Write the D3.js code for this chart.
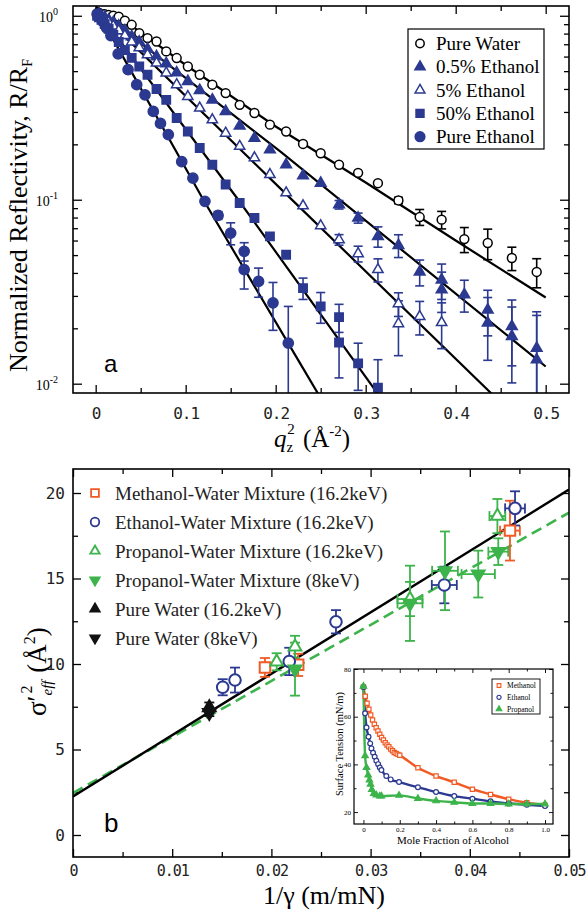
<!DOCTYPE html>
<html><head><meta charset="utf-8">
<script src="https://cdn.jsdelivr.net/npm/d3@7"></script>
<style>body{margin:0;background:#fff}svg{display:block}</style>
</head><body><script>
var blue = '#2b3990', orange = '#f15a24', green = '#3cb44b';
var serif = 'Liberation Serif', mono = 'DejaVu Sans Mono';

// ---- panel a : q_z^2 (1/A^2) vs R/R_F
var qWater = [0.0016,0.0036,0.0064,0.01,0.0144,0.0196,0.0256,0.0324,0.04,0.0484,0.0576,0.0676,0.0784,0.09,0.1024,0.1156,0.1296,0.1444,0.16,0.1764,0.1936,0.2116,0.2304,0.25,0.2704,0.2916,0.3136,0.3364,0.36,0.3844,0.4096,0.4356,0.4624,0.49];
var rWater = [1.03,1.03,1.02,1.02,1.01,1.0,0.99,0.94,0.893,0.805,0.756,0.725,0.64,0.589,0.53,0.478,0.422,0.38,0.328,0.296,0.256,0.235,0.201,0.179,0.155,0.140,0.123,0.0991,0.0805,0.0779,0.0611,0.0582,0.0482,0.0405];
var eWater = [0,0,0,0,0,0,0,0,0,0,0,0,0,0,0,0,0,0,0,0,0,0,0,0,0,0,0,0.004,0.008,0.0085,0.0095,0.011,0.007,0.0073];

var q05 = [0.0036,0.0064,0.01,0.0144,0.0196,0.0256,0.0324,0.04,0.0484,0.0576,0.0676,0.0784,0.09,0.1024,0.1156,0.1296,0.1444,0.16,0.1764,0.1936,0.2116,0.2304,0.25,0.2704,0.2916,0.3136,0.3364,0.36,0.3844,0.3844,0.4096,0.4356,0.4356,0.4624,0.4624,0.49,0.49];
var r05 = [1.02,1.0,0.98,0.95,0.92,0.88,0.83,0.77,0.72,0.66,0.60,0.55,0.49,0.44,0.393,0.349,0.302,0.252,0.216,0.187,0.155,0.135,0.123,0.094,0.0796,0.0632,0.0565,0.0405,0.0367,0.0324,0.0305,0.0252,0.0214,0.0205,0.0181,0.0156,0.0135];
var e05 = [0,0,0,0,0,0,0,0,0,0,0,0,0,0,0,0,0,0,0,0,0,0,0,0.005,0.005,0.008,0.008,0.0065,0.008,0.008,0.006,0.007,0.008,0.008,0.008,0.009,0.010];

var q5 = [0.0036,0.0064,0.01,0.0144,0.0196,0.0256,0.0324,0.04,0.0484,0.0576,0.0676,0.0784,0.09,0.1024,0.1156,0.1296,0.1444,0.16,0.1764,0.1936,0.2116,0.2304,0.25,0.2704,0.2916,0.3136,0.3364,0.3364,0.36,0.3844];
var r5 = [1.01,0.99,0.96,0.92,0.88,0.83,0.78,0.72,0.67,0.614,0.553,0.489,0.422,0.364,0.315,0.272,0.23,0.195,0.169,0.137,0.109,0.0927,0.0722,0.0606,0.0509,0.0417,0.0272,0.0212,0.0232,0.0215];
var e5 = [0,0,0,0,0,0,0,0,0,0,0,0,0,0,0,0,0,0,0,0,0,0,0,0.004,0.005,0.006,0.004,0.007,0.0048,0.006];

var q50 = [0.0016,0.0036,0.0064,0.01,0.0144,0.0196,0.0256,0.0324,0.04,0.0484,0.0576,0.0676,0.0784,0.09,0.1024,0.1156,0.1296,0.1444,0.16,0.1764,0.1936,0.2116,0.2304,0.25,0.2704,0.2704,0.2916,0.3136];
var r50 = [1.0,0.98,0.95,0.9,0.85,0.79,0.72,0.65,0.59,0.53,0.478,0.40,0.349,0.278,0.235,0.191,0.155,0.121,0.096,0.0796,0.0632,0.0502,0.0331,0.0263,0.023,0.01675,0.0129,0.0095];
var e50 = [0,0,0,0,0,0,0,0,0,0,0,0,0,0,0,0,0,0,0,0,0,0,0.0044,0.005,0.004,0.006,0.0037,0.004];

var qEth = [0.0016,0.0049,0.0081,0.0121,0.0169,0.025,0.036,0.0456,0.0548,0.064,0.072,0.0807,0.0956,0.108,0.1214,0.136,0.15,0.165,0.165,0.181,0.197,0.214];
var rEth = [1.02,0.98,0.93,0.86,0.78,0.62,0.509,0.422,0.372,0.302,0.26,0.226,0.161,0.131,0.098,0.0822,0.0659,0.0524,0.0417,0.036,0.0275,0.0166];
var eEth = [0,0,0,0,0,0,0,0,0,0,0,0,0,0,0,0.004,0.009,0.006,0.009,0.0065,0.008,0.0097];

// fitted curves
var fitWaterQ = [0,0.04,0.1,0.2,0.3,0.4,0.5], fitWaterR = [1.12,0.88,0.54,0.25,0.124,0.06,0.0294];
var fit05Q = [0,0.205,0.5], fit05R = [1.1,0.183,0.0124];
var fit5Q = [0,0.2045,0.45], fit5R = [1.1,0.116,0.0079];
var fit50Q = [0,0.1584,0.33], fit50R = [1.1,0.1,0.0068];
var fitEthQ = [0,0.1196,0.227,0.26], fitEthR = [1.1,0.1,0.01294,0.0069];

// ---- panel b : 1/gamma (m/mN) vs sigma'^2 (A^2)
var xMeth = [0.01935,0.0227,0.04405], yMeth = [9.8,9.95,17.8], eyMeth = [0.55,0.65,1.75], exMeth = [0,0,0.001];
var xEthB = [0.01509,0.01633,0.0218,0.02651,0.03743,0.04456], yEthB = [8.64,9.06,10.15,12.47,14.62,19.1], eyEthB = [0.47,0.73,0.8,0.68,1.07,1.0], exEthB = [0,0,0,0.00023,0.00126,0.001];
var xProp = [0.02053,0.02238,0.03397,0.04278], yProp = [10.13,11.0,13.8,18.65], eyProp = [0.5,0.65,1.0,1.0], exProp = [0,0,0.00126,0.0008];
var xProp8 = [0.02238,0.03397,0.0375,0.04085,0.04287], yProp8 = [9.7,13.55,15.45,15.26,16.57], eyProp8 = [1.55,2.2,2.3,1.37,0.78], exProp8 = [0,0.00126,0.0013,0.00168,0.001];
var xPW = [0.01374], yPW = [7.45], eyPW = [0.3];
var xPW8 = [0.01374], yPW8 = [7.15], eyPW8 = [0.2];
var fitSolid = [[0,2.25],[0.05,20.2]];
var fitDashed = [[0,2.45],[0.05,18.85]];

// ---- inset : mole fraction vs surface tension (mN/m)
var xMethI = [0,0.01,0.02,0.03,0.04,0.05,0.06,0.07,0.08,0.09,0.1,0.11,0.12,0.13,0.14,0.15,0.16,0.17,0.18,0.19,0.2,0.3,0.4,0.5,0.6,0.7,0.8,0.9,1.0];
var yMethI = [72.5,68.6,65.6,63.1,60.7,58.6,56.8,55.4,54.0,52.6,51.3,50.2,49.1,48.1,47.4,46.4,45.7,45.0,44.6,44.2,43.8,38.6,35.1,32.5,29.6,27.4,25.4,23.9,22.9];
var xEthI = [0,0.009,0.017,0.028,0.037,0.044,0.053,0.062,0.071,0.081,0.09,0.099,0.126,0.15,0.196,0.3,0.4,0.5,0.6,0.7,0.8,0.9,1.0];
var yEthI = [72.5,61.4,55.5,51.6,48.8,46.7,44.9,43.2,41.5,40.1,38.7,37.6,35.1,33.7,32.6,30.4,28.4,26.7,25.6,24.5,23.6,23.1,22.5];
var xPropI = [0,0.009,0.017,0.026,0.033,0.039,0.046,0.057,0.071,0.09,0.099,0.196,0.3,0.4,0.5,0.6,0.7,0.8,0.9,1.0];
var yPropI = [72.8,43.6,38.7,35.5,33.4,31.7,29.5,27.8,27.1,26.7,26.7,27.0,25.7,24.7,24.1,23.6,23.6,23.4,23.4,23.4];

var svg = d3.select('body').append('svg').attr('width', 588).attr('height', 910);

function sym(type, size){ return d3.symbol().type(type).size(size)(); }
function zip(a, b){ return a.map(function(v,i){ return [v, b[i]]; }); }

/* ================= panel a ================= */
var A = {left:73, right:569, top:6, bottom:393};
var xA = d3.scaleLinear().domain([-0.0252,0.5259]).range([A.left, A.right]);
var yA = d3.scaleLog().domain([0.0089,1.13]).range([A.bottom, A.top]);

svg.append('clipPath').attr('id','clipA').append('rect')
  .attr('x',A.left).attr('y',A.top).attr('width',A.right-A.left).attr('height',A.bottom-A.top);

var minorLog = [];
[0.01,0.1,1].forEach(function(dec){ for(var k=2;k<10;k++){ var v=dec*k; if(v<1.13 && v>0.0089) minorLog.push(v); } });

function noDomain(g){ g.select('.domain').remove(); g.selectAll('line').attr('stroke','#000').attr('stroke-width',1.3); }

svg.append('g').attr('transform','translate(0,'+A.bottom+')')
  .call(d3.axisBottom(xA).tickValues([0,0.1,0.2,0.3,0.4,0.5]).tickSize(-8).tickPadding(15)
    .tickFormat(function(d){ return d===0 ? '0' : d3.format('.1f')(d); }))
  .call(noDomain)
  .selectAll('text').style('font-family',mono).style('font-size','16px').style('letter-spacing','-1px').attr('fill','#222');
svg.append('g').attr('transform','translate(0,'+A.bottom+')')
  .call(d3.axisBottom(xA).tickValues([0.05,0.15,0.25,0.35,0.45]).tickSize(-5).tickFormat('')).call(noDomain);
svg.append('g').attr('transform','translate(0,'+A.top+')')
  .call(d3.axisTop(xA).tickValues([0,0.1,0.2,0.3,0.4,0.5]).tickSize(-8).tickFormat('')).call(noDomain);
svg.append('g').attr('transform','translate(0,'+A.top+')')
  .call(d3.axisTop(xA).tickValues([0.05,0.15,0.25,0.35,0.45]).tickSize(-5).tickFormat('')).call(noDomain);
svg.append('g').attr('transform','translate('+A.left+',0)')
  .call(d3.axisLeft(yA).tickValues([1,0.1,0.01]).tickSize(-9).tickFormat('')).call(noDomain);
svg.append('g').attr('transform','translate('+A.left+',0)')
  .call(d3.axisLeft(yA).tickValues(minorLog).tickSize(-5).tickFormat('')).call(noDomain);
svg.append('g').attr('transform','translate('+A.right+',0)')
  .call(d3.axisRight(yA).tickValues([1,0.1,0.01]).tickSize(-9).tickFormat('')).call(noDomain);
svg.append('g').attr('transform','translate('+A.right+',0)')
  .call(d3.axisRight(yA).tickValues(minorLog).tickSize(-5).tickFormat('')).call(noDomain);

[[1,'0'],[0.1,'-1'],[0.01,'-2']].forEach(function(p){
  var t = svg.append('text').attr('x',58).attr('y',yA(p[0])+6).attr('text-anchor','end')
    .style('font-family',serif).style('font-size','14px');
  t.append('tspan').text('10');
  t.append('tspan').attr('dy',-7).style('font-size','10px').text(p[1]);
});

var plotA = svg.append('g').attr('clip-path','url(#clipA)');
var lineA = d3.line().x(function(d){ return xA(d[0]); }).y(function(d){ return yA(d[1]); });
[[fitWaterQ,fitWaterR],[fit05Q,fit05R],[fit5Q,fit5R],[fit50Q,fit50R],[fitEthQ,fitEthR]].forEach(function(f){
  plotA.append('path').datum(zip(f[0],f[1])).attr('d',lineA)
    .attr('fill','none').attr('stroke','#000').attr('stroke-width',2.2);
});

var seriesA = [
  {name:'Pure Water', q:qWater, r:rWater, e:eWater, type:d3.symbolCircle, size:62, fill:'#fff', stroke:'#000'},
  {name:'0.5% Ethanol', q:q05, r:r05, e:e05, type:d3.symbolTriangle, size:50, fill:blue, stroke:blue},
  {name:'5% Ethanol', q:q5, r:r5, e:e5, type:d3.symbolTriangle, size:46, fill:'#fff', stroke:blue},
  {name:'50% Ethanol', q:q50, r:r50, e:e50, type:d3.symbolSquare, size:70, fill:blue, stroke:blue},
  {name:'Pure Ethanol', q:qEth, r:rEth, e:eEth, type:d3.symbolCircle, size:82, fill:blue, stroke:blue}
];

// error bars first
seriesA.forEach(function(s){
  var col = s.stroke;
  s.q.forEach(function(q,i){
    if(!s.e[i]) return;
    var x = xA(q), y1 = yA(s.r[i]+s.e[i]), y2 = yA(Math.max(s.r[i]-s.e[i], 0.001));
    var g = plotA.append('g').attr('stroke',col).attr('stroke-width',1.6);
    g.append('line').attr('x1',x).attr('x2',x).attr('y1',y1).attr('y2',y2);
    g.append('line').attr('x1',x-4.5).attr('x2',x+4.5).attr('y1',y1).attr('y2',y1);
    g.append('line').attr('x1',x-4.5).attr('x2',x+4.5).attr('y1',y2).attr('y2',y2);
  });
});
seriesA.forEach(function(s){
  plotA.selectAll(null).data(zip(s.q,s.r)).enter().append('path')
    .attr('d', sym(s.type, s.size))
    .attr('transform', function(d){ return 'translate('+xA(d[0])+','+yA(d[1])+')'; })
    .attr('fill', s.fill).attr('stroke', s.stroke).attr('stroke-width',1.5);
});

svg.append('rect').attr('x',A.left).attr('y',A.top).attr('width',A.right-A.left).attr('height',A.bottom-A.top)
  .attr('fill','none').attr('stroke','#000').attr('stroke-width',1.6);

// legend a
var legA = svg.append('g');
legA.append('rect').attr('x',408).attr('y',29).attr('width',136).attr('height',120)
  .attr('fill','#fff').attr('stroke','#000').attr('stroke-width',1.2);
seriesA.forEach(function(s,i){
  var y = 43.5 + i*23.3;
  legA.append('path').attr('d', sym(s.type, s.size*0.9)).attr('transform','translate(420,'+y+')')
    .attr('fill', s.fill).attr('stroke', s.stroke).attr('stroke-width',1.5);
  legA.append('text').attr('x',436).attr('y',y+6.5).style('font-family',serif).style('font-size','19px').text(s.name);
});

svg.append('text').attr('x',104).attr('y',372).style('font-family','Liberation Sans').style('font-size','24px').text('a');

// axis titles a
var ytA = svg.append('text').attr('transform','translate(27,372) rotate(-90)')
  .style('font-family',serif).style('font-size','26px');
ytA.append('tspan').text('Normalized Reflectivity, R/R');
ytA.append('tspan').attr('dy',5).style('font-size','14px').text('F');

var xtA = svg.append('text').attr('x',274).attr('y',447).style('font-family',serif).style('font-size','25px');
xtA.append('tspan').style('font-style','italic').text('q');
xtA.append('tspan').attr('dy',5).style('font-size','15px').text('z');
xtA.append('tspan').attr('dx',-6).attr('dy',-18).style('font-size','15px').text('2');
xtA.append('tspan').attr('dx',2).attr('dy',13).text('\u00a0(\u00c5');
xtA.append('tspan').attr('dy',-11).style('font-size','15px').text('-2');
xtA.append('tspan').attr('dy',11).text(')');

/* ================= panel b ================= */
var B = {left:73, right:569, top:469, bottom:857};
var xB = d3.scaleLinear().domain([0,0.05]).range([B.left, B.right]);
var yB = d3.scaleLinear().domain([-1.287,21.404]).range([B.bottom, B.top]);

svg.append('clipPath').attr('id','clipB').append('rect')
  .attr('x',B.left).attr('y',B.top).attr('width',B.right-B.left).attr('height',B.bottom-B.top);

svg.append('g').attr('transform','translate(0,'+B.bottom+')')
  .call(d3.axisBottom(xB).tickValues([0,0.01,0.02,0.03,0.04,0.05]).tickSize(-8).tickPadding(8)
    .tickFormat(function(d){ return d===0 ? '0' : d3.format('.2f')(d); }))
  .call(noDomain)
  .selectAll('text').style('font-family',mono).style('font-size','15px').style('letter-spacing','-1px').attr('fill','#222');
svg.append('g').attr('transform','translate(0,'+B.bottom+')')
  .call(d3.axisBottom(xB).tickValues([0.005,0.015,0.025,0.035,0.045]).tickSize(-5).tickFormat('')).call(noDomain);
svg.append('g').attr('transform','translate(0,'+B.top+')')
  .call(d3.axisTop(xB).tickValues([0,0.01,0.02,0.03,0.04,0.05]).tickSize(-8).tickFormat('')).call(noDomain);
svg.append('g').attr('transform','translate(0,'+B.top+')')
  .call(d3.axisTop(xB).tickValues([0.005,0.015,0.025,0.035,0.045]).tickSize(-5).tickFormat('')).call(noDomain);
svg.append('g').attr('transform','translate('+B.left+',0)')
  .call(d3.axisLeft(yB).tickValues([0,5,10,15,20]).tickSize(-8).tickPadding(8))
  .call(noDomain)
  .selectAll('text').style('font-family',mono).style('font-size','16px').attr('fill','#222');
svg.append('g').attr('transform','translate('+B.left+',0)')
  .call(d3.axisLeft(yB).tickValues([2.5,7.5,12.5,17.5]).tickSize(-5).tickFormat('')).call(noDomain);
svg.append('g').attr('transform','translate('+B.right+',0)')
  .call(d3.axisRight(yB).tickValues([0,5,10,15,20]).tickSize(-8).tickFormat('')).call(noDomain);
svg.append('g').attr('transform','translate('+B.right+',0)')
  .call(d3.axisRight(yB).tickValues([2.5,7.5,12.5,17.5]).tickSize(-5).tickFormat('')).call(noDomain);

var plotB = svg.append('g').attr('clip-path','url(#clipB)');
var lineB = d3.line().x(function(d){ return xB(d[0]); }).y(function(d){ return yB(d[1]); });
plotB.append('path').datum(fitDashed).attr('d',lineB).attr('fill','none')
  .attr('stroke',green).attr('stroke-width',2.6).attr('stroke-dasharray','11,6');
plotB.append('path').datum(fitSolid).attr('d',lineB).attr('fill','none')
  .attr('stroke','#000').attr('stroke-width',2.4);

var triDown = 'rotate(180)';
var seriesB = [
  {name:'Methanol-Water Mixture (16.2keV)', x:xMeth, y:yMeth, ey:eyMeth, ex:exMeth, type:d3.symbolSquare, size:110, fill:'#fff', stroke:orange},
  {name:'Ethanol-Water Mixture (16.2keV)', x:xEthB, y:yEthB, ey:eyEthB, ex:exEthB, type:d3.symbolCircle, size:105, fill:'#fff', stroke:blue},
  {name:'Propanol-Water Mixture (16.2keV)', x:xProp, y:yProp, ey:eyProp, ex:exProp, type:d3.symbolTriangle, size:70, fill:'#fff', stroke:green},
  {name:'Propanol-Water Mixture (8keV)', x:xProp8, y:yProp8, ey:eyProp8, ex:exProp8, type:d3.symbolTriangle, size:70, fill:green, stroke:green, rot:true},
  {name:'Pure Water (16.2keV)', x:xPW, y:yPW, ey:eyPW, ex:[0], type:d3.symbolTriangle, size:70, fill:'#111', stroke:'#111'},
  {name:'Pure Water (8keV)', x:xPW8, y:yPW8, ey:eyPW8, ex:[0], type:d3.symbolTriangle, size:70, fill:'#111', stroke:'#111', rot:true}
];

seriesB.forEach(function(s){
  s.x.forEach(function(xv,i){
    var g = plotB.append('g').attr('stroke',s.stroke).attr('stroke-width',1.8);
    var x = xB(xv), y = yB(s.y[i]);
    if(s.ey[i]){
      var y1 = yB(s.y[i]+s.ey[i]), y2 = yB(s.y[i]-s.ey[i]);
      g.append('line').attr('x1',x).attr('x2',x).attr('y1',y1).attr('y2',y2);
      g.append('line').attr('x1',x-5).attr('x2',x+5).attr('y1',y1).attr('y2',y1);
      g.append('line').attr('x1',x-5).attr('x2',x+5).attr('y1',y2).attr('y2',y2);
    }
    if(s.ex[i]){
      var x1 = xB(xv-s.ex[i]), x2 = xB(xv+s.ex[i]);
      g.append('line').attr('x1',x1).attr('x2',x2).attr('y1',y).attr('y2',y);
      g.append('line').attr('x1',x1).attr('x2',x1).attr('y1',y-5).attr('y2',y+5);
      g.append('line').attr('x1',x2).attr('x2',x2).attr('y1',y-5).attr('y2',y+5);
    }
  });
});
seriesB.forEach(function(s){
  plotB.selectAll(null).data(zip(s.x,s.y)).enter().append('path')
    .attr('d', sym(s.type, s.size))
    .attr('transform', function(d){ return 'translate('+xB(d[0])+','+yB(d[1])+')' + (s.rot ? ' '+triDown : ''); })
    .attr('fill', s.fill).attr('stroke', s.stroke).attr('stroke-width',2);
});

svg.append('rect').attr('x',B.left).attr('y',B.top).attr('width',B.right-B.left).attr('height',B.bottom-B.top)
  .attr('fill','none').attr('stroke','#000').attr('stroke-width',1.6);

// legend b
seriesB.forEach(function(s,i){
  var y = 493 + i*29;
  svg.append('path').attr('d', sym(s.type, s.size*0.55))
    .attr('transform','translate(95,'+y+')' + (s.rot ? ' '+triDown : ''))
    .attr('fill', s.fill).attr('stroke', s.stroke).attr('stroke-width',1.8);
  svg.append('text').attr('x',115).attr('y',y+6.5).style('font-family',serif).style('font-size','19px')
    .attr('fill','#222').text(s.name);
});

svg.append('text').attr('x',104).attr('y',832).style('font-family','Liberation Sans').style('font-size','26px').text('b');

var ytB = svg.append('text').attr('transform','translate(46,716) rotate(-90)')
  .style('font-family',serif).style('font-size','27px');
ytB.append('tspan').text('\u03c3\u2032');
ytB.append('tspan').attr('dy',6).style('font-size','15px').style('font-style','italic').text('eff');
ytB.append('tspan').attr('dx',-13).attr('dy',-20).style('font-size','16px').text('2');
ytB.append('tspan').attr('dx',6).attr('dy',14).text('\u00a0(\u00c5');
ytB.append('tspan').attr('dy',-11).style('font-size','16px').text('2');
ytB.append('tspan').attr('dy',11).text(')');

svg.append('text').attr('x',324).attr('y',904).attr('text-anchor','middle')
  .style('font-family',serif).style('font-size','26px').text('1/\u03b3 (m/mN)');

/* ================= inset ================= */
var I = {left:354, right:553, top:669, bottom:824};
var xI = d3.scaleLinear().domain([-0.052,1.044]).range([I.left, I.right]);
var yI = d3.scaleLinear().domain([15,80]).range([I.bottom, I.top]);
var inset = svg.append('g');
inset.append('rect').attr('x',I.left).attr('y',I.top).attr('width',I.right-I.left).attr('height',I.bottom-I.top).attr('fill','#fff');

function thin(g){ g.select('.domain').remove(); g.selectAll('line').attr('stroke','#000').attr('stroke-width',0.9); }
inset.append('g').attr('transform','translate(0,'+I.bottom+')')
  .call(d3.axisBottom(xI).tickValues([0,0.2,0.4,0.6,0.8,1.0]).tickSize(-4).tickPadding(3)
    .tickFormat(function(d){ return d===0 ? '0' : d3.format('.1f')(d); }))
  .call(thin).selectAll('text').style('font-family',serif).style('font-size','7px');
inset.append('g').attr('transform','translate(0,'+I.bottom+')')
  .call(d3.axisBottom(xI).tickValues([0.1,0.3,0.5,0.7,0.9]).tickSize(-2.5).tickFormat('')).call(thin);
inset.append('g').attr('transform','translate(0,'+I.top+')')
  .call(d3.axisTop(xI).tickValues([0,0.2,0.4,0.6,0.8,1.0]).tickSize(-4).tickFormat('')).call(thin);
inset.append('g').attr('transform','translate(0,'+I.top+')')
  .call(d3.axisTop(xI).tickValues([0.1,0.3,0.5,0.7,0.9]).tickSize(-2.5).tickFormat('')).call(thin);
inset.append('g').attr('transform','translate('+I.left+',0)')
  .call(d3.axisLeft(yI).tickValues([20,40,60,80]).tickSize(-4).tickPadding(3))
  .call(thin).selectAll('text').style('font-family',serif).style('font-size','7px');
inset.append('g').attr('transform','translate('+I.left+',0)')
  .call(d3.axisLeft(yI).tickValues([30,50,70]).tickSize(-2.5).tickFormat('')).call(thin);
inset.append('g').attr('transform','translate('+I.right+',0)')
  .call(d3.axisRight(yI).tickValues([20,40,60,80]).tickSize(-4).tickFormat('')).call(thin);
inset.append('g').attr('transform','translate('+I.right+',0)')
  .call(d3.axisRight(yI).tickValues([30,50,70]).tickSize(-2.5).tickFormat('')).call(thin);

var lineI = d3.line().x(function(d){ return xI(d[0]); }).y(function(d){ return yI(d[1]); }).curve(d3.curveMonotoneX);
var seriesI = [
  {name:'Methanol', x:xMethI, y:yMethI, col:orange, type:d3.symbolSquare, size:18, fill:'#fff'},
  {name:'Ethanol', x:xEthI, y:yEthI, col:blue, type:d3.symbolCircle, size:18, fill:'#fff'},
  {name:'Propanol', x:xPropI, y:yPropI, col:green, type:d3.symbolTriangle, size:18, fill:green}
];
seriesI.forEach(function(s){
  inset.append('path').datum(zip(s.x,s.y)).attr('d',lineI).attr('fill','none')
    .attr('stroke',s.col).attr('stroke-width',2.4);
});
seriesI.forEach(function(s){
  inset.selectAll(null).data(zip(s.x,s.y)).enter().append('path')
    .attr('d', sym(s.type, s.size))
    .attr('transform', function(d){ return 'translate('+xI(d[0])+','+yI(d[1])+')'; })
    .attr('fill', s.fill).attr('stroke', s.col).attr('stroke-width',1.2);
});
inset.append('rect').attr('x',I.left).attr('y',I.top).attr('width',I.right-I.left).attr('height',I.bottom-I.top)
  .attr('fill','none').attr('stroke','#000').attr('stroke-width',1.2);

inset.append('rect').attr('x',492).attr('y',679).attr('width',48).attr('height',35)
  .attr('fill','#fff').attr('stroke','#000').attr('stroke-width',0.9);
seriesI.forEach(function(s,i){
  var y = 685.5 + i*11.8;
  inset.append('path').attr('d', sym(s.type, 14)).attr('transform','translate(499,'+y+')')
    .attr('fill', s.fill).attr('stroke', s.col).attr('stroke-width',1.1);
  inset.append('text').attr('x',507).attr('y',y+2.5).style('font-family',serif).style('font-size','7.5px').text(s.name);
});

inset.append('text').attr('x',453).attr('y',844).attr('text-anchor','middle')
  .style('font-family',serif).style('font-size','11px').text('Mole Fraction of Alcohol');
inset.append('text').attr('transform','translate(343,744) rotate(-90)').attr('text-anchor','middle')
  .style('font-family',serif).style('font-size','10.5px').text('Surface Tension (mN/m)');
</script></body></html>
